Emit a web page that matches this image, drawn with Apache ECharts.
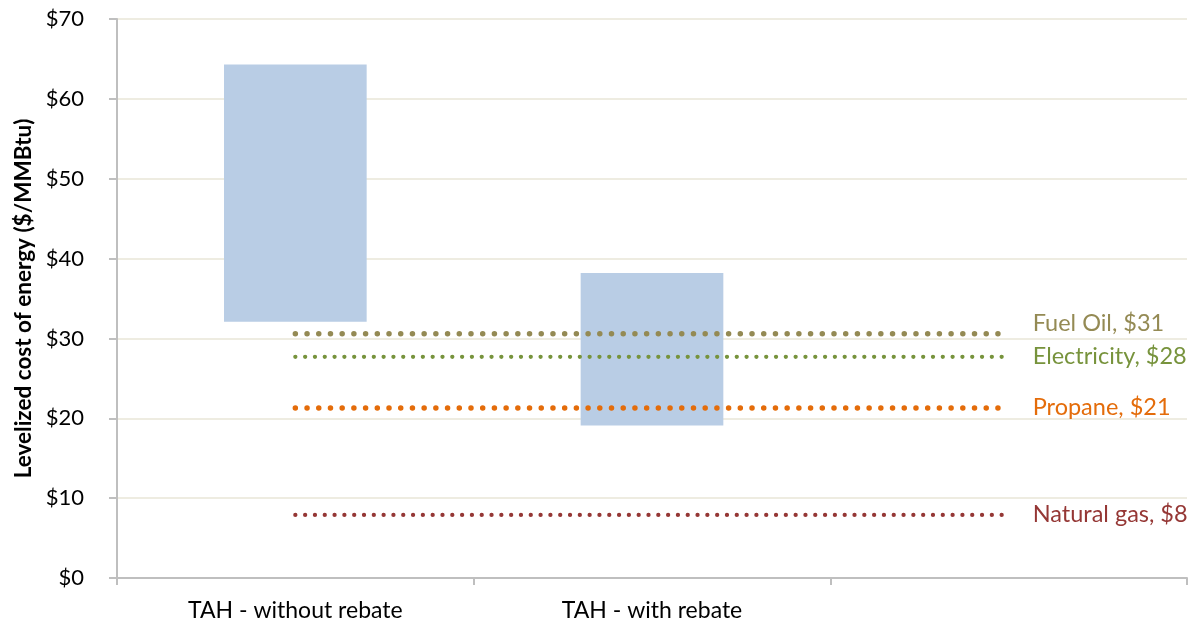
<!DOCTYPE html>
<html><head><meta charset="utf-8">
<script src="https://cdn.jsdelivr.net/npm/echarts@6/dist/echarts.min.js"></script>
<style>html,body{margin:0;padding:0;background:#fff}#c{width:1202px;height:628px}</style>
</head><body><div id="c"></div>
<script>
const categories = ['TAH - without rebate', 'TAH - with rebate', ''];
const rangeLow = [32.1, 19.1, null];
const rangeHigh = [64.3, 38.2, null];
const refNames = ['Fuel Oil', 'Electricity', 'Propane', 'Natural gas'];
const refValues = [30.6, 27.7, 21.3, 7.9];
const refLabels = ['Fuel Oil, $31', 'Electricity, $28', 'Propane, $21', 'Natural gas, $8'];
const refColors = ['#948A54', '#77933C', '#E46C0A', '#953735'];
const refWidths = [5.5, 4.3, 5.5, 4.3];
const refGaps = [11.7, 9.8, 11.7, 9.8];
const refLabelOffsetY = [-10, 0, 0, 0];
const yTicks = [0, 10, 20, 30, 40, 50, 60, 70];

const font = 'Lato, "Open Sans", sans-serif';
const chart = echarts.init(document.getElementById('c'));
const series = [
  { name: 'base', type: 'bar', stack: 'r', barWidth: '40%', silent: true,
    itemStyle: { color: 'transparent' }, data: rangeLow },
  { name: 'range', type: 'bar', stack: 'r', barWidth: '40%',
    itemStyle: { color: '#B9CDE5' },
    data: rangeHigh.map((h, i) => (h == null || rangeLow[i] == null) ? null : +(h - rangeLow[i]).toFixed(2)) }
];
refNames.forEach((n, i) => {
  series.push({
    name: n, type: 'line', symbol: 'none', z: 5,
    data: categories.map(() => refValues[i]),
    lineStyle: { color: refColors[i], width: refWidths[i], type: [0.01, refGaps[i]], cap: 'round' },
    endLabel: { show: true, formatter: refLabels[i], color: refColors[i], fontSize: 23.5, fontFamily: font,
      distance: 24, offset: [0, refLabelOffsetY[i]] }
  });
});
chart.setOption({
  animation: false,
  grid: { left: 117, right: 15, top: 19, bottom: 50 },
  xAxis: {
    type: 'category', data: categories, boundaryGap: true,
    axisLine: { lineStyle: { color: '#BFBFBF', width: 2 } },
    axisTick: { show: true, length: 7, lineStyle: { color: '#BFBFBF', width: 2 } },
    axisLabel: { color: '#000', fontSize: 23, fontFamily: font, margin: 21 }
  },
  yAxis: {
    type: 'value', min: yTicks[0], max: yTicks[yTicks.length - 1], interval: 10,
    name: 'Levelized cost of energy ($/MMBtu)', nameLocation: 'middle', nameGap: 81,
    nameTextStyle: { color: '#000', fontSize: 22.5, fontWeight: 'bold', fontFamily: font },
    axisLine: { show: true, lineStyle: { color: '#BFBFBF', width: 2 } },
    axisTick: { show: true, length: 8, lineStyle: { color: '#BFBFBF', width: 2 } },
    axisLabel: { color: '#000', fontSize: 22, fontFamily: font, margin: 33, formatter: v => '$' + v },
    splitLine: { lineStyle: { color: '#EEECE1', width: 2 } }
  },
  series: series
});
</script></body></html>
